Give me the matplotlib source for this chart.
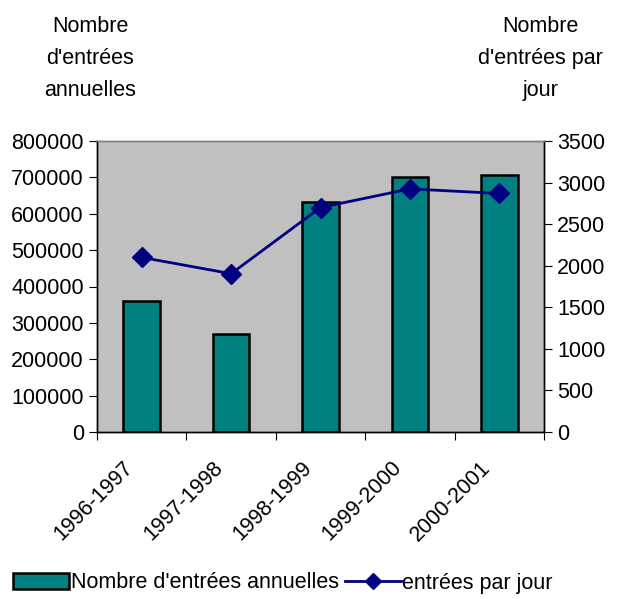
import matplotlib
matplotlib.use("Agg")
import matplotlib.pyplot as plt
import matplotlib.patches as mpatches
import matplotlib.transforms as mtransforms
from matplotlib.lines import Line2D
import numpy as np

plt.rcParams['font.family'] = ['Liberation Sans', 'DejaVu Sans']

saisons = ['1996-1997', '1997-1998', '1998-1999', '1999-2000', '2000-2001']
entrees_annuelles = [360000, 270000, 631000, 700000, 707000]
entrees_par_jour = [2100, 1904, 2700, 2924, 2869]

fig = plt.figure(figsize=(6.25, 5.99), dpi=100)
ax = fig.add_axes([97/625, 1-432/599, (544-97)/625, (432-141)/599])
ax.set_facecolor('#C0C0C0')

x = np.arange(len(saisons))
ax.bar(x, entrees_annuelles, width=0.41, color='#008080', edgecolor='black', linewidth=1.8)
ax.set_ylim(0, 800000)
ax.set_xlim(-0.5, len(saisons) - 0.5)
ax.set_yticks(np.arange(0, 800001, 100000))
ax.set_xticks(np.arange(-0.5, len(saisons), 1))
ax.set_xticklabels([])
ax.set_xticks(x, minor=True)
ax.set_xticklabels(saisons, minor=True, rotation=45, ha='right', rotation_mode='anchor')
ax.tick_params(axis='x', which='minor', length=0, labelsize=15.5, pad=18)
ax.tick_params(axis='x', which='major', length=6, direction='out')
ax.tick_params(axis='y', labelsize=15.5, length=6)
shift = mtransforms.ScaledTranslation(-19/100, 0, fig.dpi_scale_trans)
for lab in ax.get_xticklabels(minor=True):
    lab.set_transform(lab.get_transform() + shift)

ax2 = ax.twinx()
ax2.plot(x, entrees_par_jour, color='#000080', marker='D', markersize=10, linewidth=2)
ax2.set_ylim(0, 3500)
ax2.set_yticks(np.arange(0, 3501, 500))
ax2.tick_params(axis='y', labelsize=15.5, length=6)

for a in (ax, ax2):
    for s in a.spines.values():
        s.set_color('#808080')
        s.set_linewidth(1)
    a.spines['left'].set_color('black')
    a.spines['right'].set_color('black')
    a.spines['bottom'].set_color('black')

fig.text(90/625, 1-16/599, "Nombre\nd'entrées\nannuelles", ha='center', va='top',
         fontsize=15.5, linespacing=1.7)
fig.text(540/625, 1-16/599, "Nombre\nd'entrées par\njour", ha='center', va='top',
         fontsize=15.5, linespacing=1.7)

h1 = mpatches.Patch(facecolor='#008080', edgecolor='black', linewidth=1.8,
                    label="Nombre d'entrées annuelles")
h2 = Line2D([], [], color='#000080', marker='D', markersize=8, linewidth=2,
            label='entrées par jour')
fig.legend(handles=[h1, h2], loc='center', bbox_to_anchor=(283/625, 1-583/599),
           ncol=2, frameon=False, fontsize=15.5, handlelength=2.6,
           columnspacing=0.3, handletextpad=0.05, borderpad=0)

fig.savefig('out.png', dpi=100)
